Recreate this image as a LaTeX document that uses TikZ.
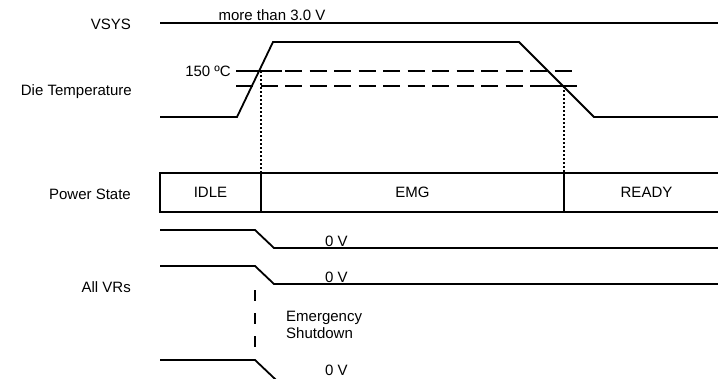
\documentclass[tikz,border=0pt]{standalone}
\usepackage{fontspec}
\setmainfont{Liberation Sans}
\usetikzlibrary{positioning}
\newcommand{\lblfont}{\fontsize{15}{17}\selectfont}
\tikzset{
  wave/.style={line width=1.8pt, draw=black},
  thresh/.style={wave, dash pattern=on 17pt off 7.5pt},
  marker/.style={line width=1.6pt, draw=black, dash pattern=on 2pt off 2pt},
  shutdown/.style={line width=1.8pt, draw=black, dash pattern=on 11pt off 12pt},
  rowlabel/.style={font=\lblfont, inner sep=0pt, anchor=base east},
  note/.style={font=\lblfont, inner sep=0pt},
  state/.style={
    draw=black,
    line width=1.8pt,
    font=\lblfont,
    minimum height=39pt,
    inner sep=0pt,
    outer sep=0pt,
    anchor=west
  }
}

\begin{document}
\begin{tikzpicture}[x=1pt, y=-1pt]
\clip (0,0) rectangle (718,378);

% --- Row labels ---
\node[rowlabel] (vsys) at (131,29) {VSYS};
\node[rowlabel] (dietemp) at (132,95.5) {Die Temperature};
\node[rowlabel] (pstate) at (131,199) {Power State};
\node[rowlabel] (allvrs) at (131,292) {All VRs};

% --- VSYS ---
\draw[wave] (160,23) -- (718,23);
\node[note, anchor=base] (vsyslvl) at (272,20.5) {more than 3.0 V};

% --- Die temperature ---
\draw[wave] (160,117) -- (237,117) -- (273,42) -- (519,42)
  -- (594,117) -- (718,117);
\node[note, anchor=base east] (limit) at (231,76) {150 ºC};
\draw[thresh] (236,71) -- (577,71);
\draw[thresh] (236,86) -- (577,86);
\draw[wave] (236,71) -- (282,71);
\draw[wave] (540,86) -- (577,86);
\coordinate (hot) at (261,71);
\coordinate (cool) at (564,86);

% --- Power state ---
\node[state, minimum width=101pt] (idle) at (160,192.5) {IDLE};
\node[state, minimum width=303pt, right=0pt of idle] (emg) {EMG};
\node[state, minimum width=165pt, right=0pt of emg] (ready) {READY};

\draw[marker] (hot) -- (idle.north east);
\draw[marker] (cool) -- (emg.north east);

% --- Voltage regulators ---
\draw[wave] (160,230) -- (255,230) -- (274,248) -- (718,248);
\node[note, anchor=base] (vra) at (336.5,246) {0 V};
\draw[wave] (160,266) -- (255,266) -- (274,284) -- (718,284);
\node[note, anchor=base] (vrb) at (336.5,282.5) {0 V};
\draw[wave] (160,360) -- (255,360) -- (274,378) -- (296,400);
\node[note, anchor=base] (vrc) at (336.5,375) {0 V};

\coordinate (sdtop) at (255,290);
\coordinate (sdbot) at (255,347);
\draw[shutdown] (sdtop) -- (sdbot);
\node[note, align=left, anchor=north west] (sdnote) at (286,310.5) {Emergency\\Shutdown};

\end{tikzpicture}
\end{document}
